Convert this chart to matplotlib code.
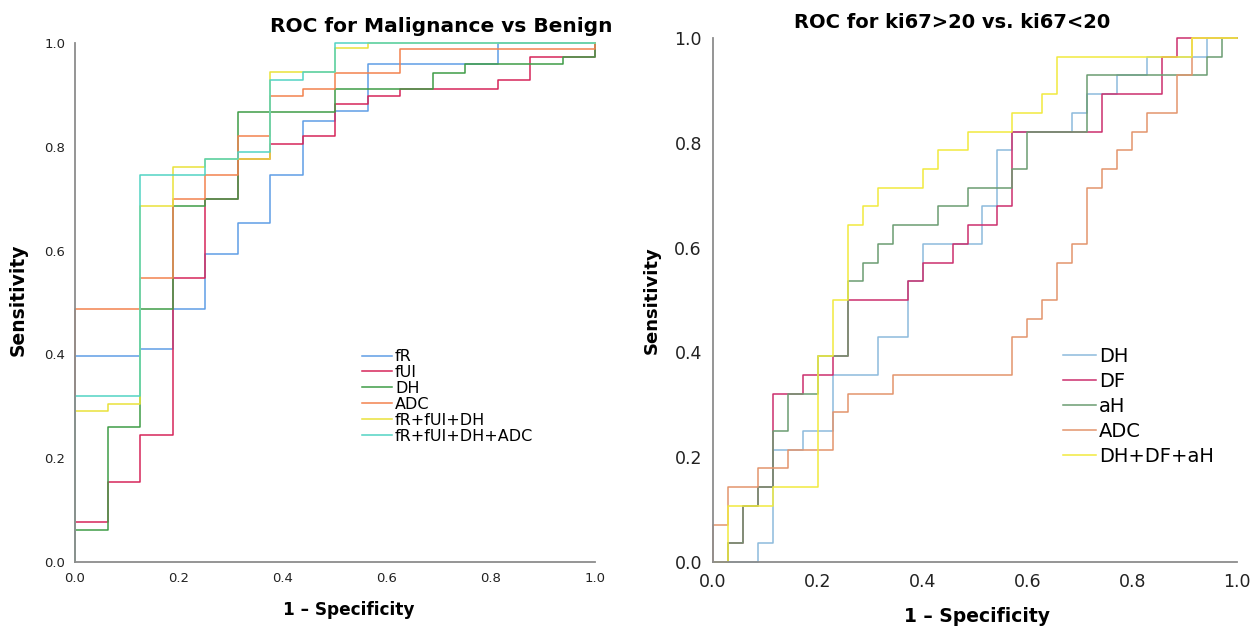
import matplotlib
matplotlib.use("Agg")
import matplotlib.pyplot as plt

# ---------------- data: left panel (Malignance vs Benign) ----------------
# false-positive rate steps are in units of 1/16 (16 benign cases)
L_NNEG = 16
L_labels = ["fR", "fUI", "DH", "ADC", "fR+fUI+DH", "fR+fUI+DH+ADC"]
L_colors = ["#5f9ee6", "#d6265a", "#3f9c46", "#f2824e", "#e9e23a", "#52d3c3"]

fR_k   = [0, 0, 2, 3, 4, 5, 6, 7, 8, 9, 13, 16]
fR_t   = [0, 0.397, 0.411, 0.487, 0.593, 0.654, 0.746, 0.850, 0.869, 0.959, 1.0, 1.0]
fUI_k  = [0, 0, 1, 2, 3, 4, 5, 6, 7, 8, 9, 10, 13, 14, 16]
fUI_t  = [0, 0.077, 0.154, 0.245, 0.548, 0.699, 0.776, 0.806, 0.821, 0.882, 0.897, 0.912, 0.928, 0.973, 1.0]
DH_k   = [0, 0, 1, 2, 3, 4, 5, 8, 11, 12, 15, 16]
DH_t   = [0, 0.062, 0.260, 0.487, 0.685, 0.699, 0.868, 0.912, 0.943, 0.959, 0.973, 1.0]
ADC_k  = [0, 0, 2, 3, 4, 5, 6, 7, 8, 10, 16]
ADC_t  = [0, 0.487, 0.548, 0.699, 0.746, 0.821, 0.897, 0.912, 0.943, 0.988, 1.0]
C3_k   = [0, 0, 1, 2, 3, 4, 6, 8, 9, 16]
C3_t   = [0, 0.290, 0.304, 0.685, 0.762, 0.776, 0.945, 0.990, 1.0, 1.0]
C4_k   = [0, 0, 2, 4, 5, 6, 7, 8, 16]
C4_t   = [0, 0.320, 0.746, 0.776, 0.790, 0.929, 0.945, 1.0, 1.0]
L_series = [(fR_k, fR_t), (fUI_k, fUI_t), (DH_k, DH_t), (ADC_k, ADC_t), (C3_k, C3_t), (C4_k, C4_t)]

# ---------------- data: right panel (ki67>20 vs ki67<20) ----------------
R_NNEG = 35
R_NPOS = 28
R_labels = ["DH", "DF", "aH", "ADC", "DH+DF+aH"]
R_colors = ["#8dbbdc", "#cc2f6e", "#6b9c72", "#e3946c", "#f1ea3e"]

rDH_k  = [0, 3, 4, 6, 8, 11, 13, 14, 18, 19, 20, 24, 25, 27, 29, 33, 35]
rDH_n  = [0, 1, 6, 7, 10, 12, 15, 17, 19, 22, 23, 24, 25, 26, 27, 28, 28]
rDF_k  = [0, 1, 2, 3, 4, 6, 8, 9, 13, 14, 16, 17, 19, 20, 26, 30, 31, 35]
rDF_n  = [0, 1, 3, 4, 9, 10, 11, 14, 15, 16, 17, 18, 19, 23, 25, 27, 28, 28]
raH_k  = [0, 1, 2, 3, 4, 5, 7, 9, 10, 11, 12, 15, 17, 20, 21, 25, 33, 34, 35]
raH_n  = [0, 1, 3, 4, 7, 9, 11, 15, 16, 17, 18, 19, 20, 21, 23, 26, 27, 28, 28]
rADC_k = [0, 0, 1, 3, 5, 8, 9, 12, 20, 21, 22, 23, 24, 25, 26, 27, 28, 29, 31, 32, 35]
rADC_n = [0, 2, 4, 5, 6, 8, 9, 10, 12, 13, 14, 16, 17, 20, 21, 22, 23, 24, 26, 28, 28]
rCMB_k = [0, 1, 4, 7, 8, 9, 10, 11, 14, 15, 17, 20, 22, 23, 32, 35]
rCMB_n = [0, 3, 4, 11, 14, 18, 19, 20, 21, 22, 23, 24, 25, 27, 28, 28]
R_series = [(rDH_k, rDH_n), (rDF_k, rDF_n), (raH_k, raH_n), (rADC_k, rADC_n), (rCMB_k, rCMB_n)]

ticks = [0.0, 0.2, 0.4, 0.6, 0.8, 1.0]
tick_labels = ["0.0", "0.2", "0.4", "0.6", "0.8", "1.0"]

plt.rcParams['font.family'] = ['DejaVu Sans']

fig = plt.figure(figsize=(12.5, 6.26), dpi=100)
W, H = 1250, 626

def axes_px(x0, x1, ytop, ybot):
    return fig.add_axes([x0 / W, (H - ybot) / H, (x1 - x0) / W, (ybot - ytop) / H])

def style(ax, fs, pad):
    ax.set_xlim(0, 1)
    ax.set_ylim(0, 1)
    for s in ("top", "right"):
        ax.spines[s].set_visible(False)
    for s in ("left", "bottom"):
        ax.spines[s].set_color("#8c8c8c")
        ax.spines[s].set_linewidth(1.3)
    ax.set_xticks(ticks)
    ax.set_yticks(ticks)
    ax.set_xticklabels(tick_labels)
    ax.set_yticklabels(tick_labels)
    ax.tick_params(length=0, labelsize=fs, pad=pad, colors="#222222")

# ---- left panel ----
axL = axes_px(75, 595, 43, 562)
style(axL, 9.5, 7)
for (k, t), lab, col in zip(L_series, L_labels, L_colors):
    axL.step([v / L_NNEG for v in k], t, where="post", color=col, lw=1.1,
             label=lab, clip_on=False)
legL = axL.legend(loc="upper left", bbox_to_anchor=(0.552, 0.410), frameon=False,
                  fontsize=11.5, handlelength=1.87, handletextpad=0.2,
                  labelspacing=0.055, borderpad=0, borderaxespad=0)

# ---- right panel ----
axR = axes_px(713, 1237, 38, 562)
style(axR, 12.5, 8)
for (k, n), lab, col in zip(R_series, R_labels, R_colors):
    axR.step([v / R_NNEG for v in k], [v / R_NPOS for v in n], where="post",
             color=col, lw=1.1, label=lab, clip_on=False)
legR = axR.legend(loc="upper left", bbox_to_anchor=(0.668, 0.410), frameon=False,
                  fontsize=14, handlelength=1.7, handletextpad=0.15,
                  labelspacing=0.31, borderpad=0, borderaxespad=0)

# ---- titles and axis labels ----
fig.text(441 / W, 1 - 27 / H, "ROC for Malignance vs Benign", ha="center", va="center",
         fontsize=14.5, fontweight="bold")
fig.text(952 / W, 1 - 22 / H, "ROC for ki67>20 vs. ki67<20", ha="center", va="center",
         fontsize=14, fontweight="bold")
fig.text(349 / W, 1 - 610 / H, "1 \u2013 Specificity", ha="center", va="center",
         fontsize=12.2, fontweight="bold")
fig.text(977 / W, 1 - 617 / H, "1 \u2013 Specificity", ha="center", va="center",
         fontsize=13.5, fontweight="bold")
fig.text(18 / W, 1 - 300 / H, "Sensitivity", ha="center", va="center", rotation=90,
         fontsize=13.5, fontweight="bold")
fig.text(652 / W, 1 - 300 / H, "Sensitivity", ha="center", va="center", rotation=90,
         fontsize=13, fontweight="bold")

fig.savefig("out.png", dpi=100)
